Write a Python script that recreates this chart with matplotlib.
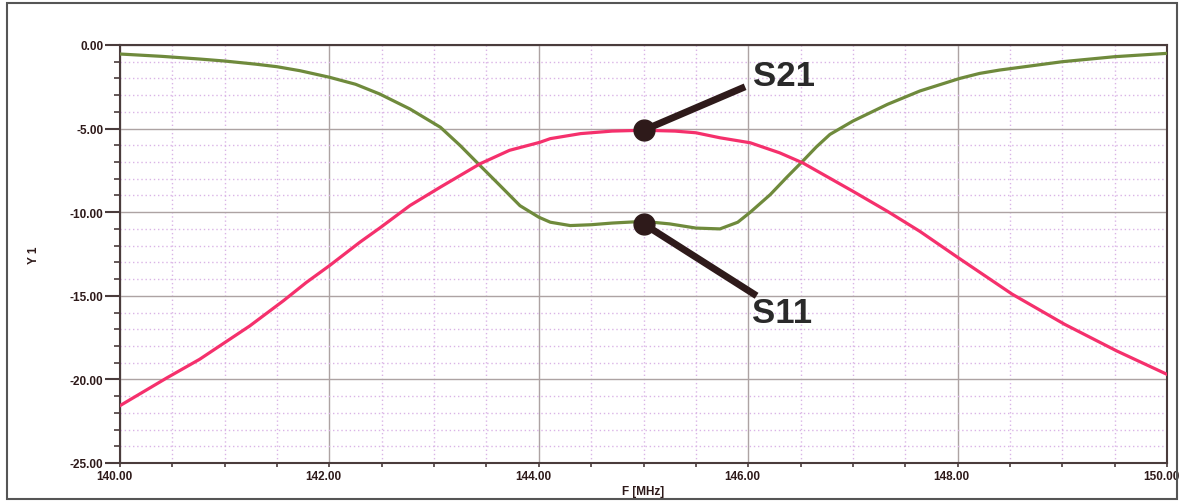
import matplotlib

matplotlib.use("Agg")

import matplotlib.pyplot as plt
from matplotlib.patches import Rectangle
from matplotlib.ticker import MultipleLocator, FormatStrFormatter
from matplotlib.transforms import ScaledTranslation

plt.rcParams["font.family"] = ["Liberation Sans", "DejaVu Sans"]

s11_freq = [140.0, 140.4, 140.76, 141.0, 141.3, 141.5, 141.72, 142.0, 142.25, 142.48,
            142.77, 143.06, 143.25, 143.44, 143.63, 143.82, 144.0, 144.11, 144.3, 144.5,
            144.7, 145.0, 145.25, 145.5, 145.73, 145.9, 146.02, 146.21, 146.37, 146.52,
            146.65, 146.78, 147.0, 147.33, 147.64, 148.02, 148.21, 148.4, 148.7, 149.0,
            149.5, 150.0]
s11_db = [-0.54, -0.68, -0.84, -0.96, -1.15, -1.3, -1.54, -1.93, -2.35, -2.93,
          -3.83, -4.92, -6.02, -7.22, -8.41, -9.61, -10.3, -10.6, -10.8, -10.75,
          -10.65, -10.55, -10.7, -10.95, -11.0, -10.6, -10.0, -8.95, -7.9, -6.95,
          -6.1, -5.35, -4.55, -3.55, -2.75, -2.0, -1.7, -1.5, -1.25, -1.0,
          -0.7, -0.5]

s21_freq = [140.0, 140.45, 140.76, 141.0, 141.24, 141.56, 141.78, 142.0, 142.29, 142.48,
            142.77, 143.06, 143.44, 143.72, 144.01, 144.11, 144.4, 144.7, 145.0, 145.3,
            145.5, 145.73, 146.02, 146.3, 146.52, 147.0, 147.33, 147.64, 148.0, 148.52,
            149.02, 149.52, 150.0]
s21_db = [-21.57, -19.9, -18.8, -17.8, -16.8, -15.3, -14.2, -13.2, -11.8, -10.95,
          -9.6, -8.5, -7.1, -6.3, -5.82, -5.6, -5.3, -5.15, -5.1, -5.15,
          -5.25, -5.55, -5.85, -6.45, -7.05, -8.75, -9.95, -11.15, -12.7, -14.9,
          -16.7, -18.3, -19.7]

labels = ["S21", "S11"]
marker_points = [(145.0, -5.1), (145.0, -10.7)]
leader_ends = [(145.97, -2.5), (146.08, -15.0)]
label_points = [(146.05, -1.8), (146.04, -16.0)]

dark = "#2e1a1a"

fig = plt.figure(figsize=(11.81, 5.02), dpi=100)
ax = fig.add_axes([0.1016, 0.0757, 0.8866, 0.8327])

ax.plot(s11_freq, s11_db, color="#6f8a3c", linewidth=2.3, zorder=3)
ax.plot(s21_freq, s21_db, color="#f5306c", linewidth=2.3, zorder=3)

for name, dot, end, txt in zip(labels, marker_points, leader_ends, label_points):
    ax.plot([dot[0], end[0]], [dot[1], end[1]], color=dark, linewidth=5,
            solid_capstyle="butt", zorder=4)
    ax.plot([dot[0]], [dot[1]], marker="o", markersize=15, color=dark, zorder=5)
    ax.text(txt[0], txt[1], name, fontsize=25, fontweight="bold", color="#2a2a2a",
            ha="left", va="center", zorder=6)

ax.set_xlim(140, 150)
ax.set_ylim(-25, 0)
ax.xaxis.set_major_locator(MultipleLocator(2))
ax.xaxis.set_minor_locator(MultipleLocator(0.5))
ax.yaxis.set_major_locator(MultipleLocator(5))
ax.yaxis.set_minor_locator(MultipleLocator(1))
ax.xaxis.set_major_formatter(FormatStrFormatter("%.2f"))
ax.yaxis.set_major_formatter(FormatStrFormatter("%.2f"))

ax.grid(True, which="major", color="#ada3a3", linewidth=1.0, zorder=1)
ax.grid(True, which="minor", color="#dab4e6", linewidth=1.0, linestyle=(0, (1, 2)), zorder=1)

for side in ax.spines.values():
    side.set_color("#4a3c3c")
    side.set_linewidth(1.5)

ax.tick_params(axis="y", which="major", length=11, width=1.5, color="#4a3c3c",
               labelsize=8.5, labelcolor=dark, pad=1)
ax.tick_params(axis="y", which="minor", length=4, width=1.2, color="#4a3c3c")
ax.tick_params(axis="x", which="both", length=3, width=1.2, color="#4a3c3c",
               labelsize=8.5, labelcolor=dark, pad=2)

shift = ScaledTranslation(-0.06, 0, fig.dpi_scale_trans)
for lbl in ax.get_xticklabels():
    lbl.set_fontweight("bold")
    lbl.set_transform(lbl.get_transform() + shift)
for lbl in ax.get_yticklabels():
    lbl.set_fontweight("bold")

ax.set_xlabel("F [MHz]", fontsize=8.5, fontweight="bold", color=dark, labelpad=2)
ax.set_ylabel("Y 1", fontsize=8.5, fontweight="bold", color=dark, labelpad=21)

fig.patches.append(Rectangle((0.006, 0.004), 0.991, 0.988, transform=fig.transFigure,
                             fill=False, edgecolor="#555555", linewidth=1.5))

fig.savefig("out.png", dpi=100)
plt.close(fig)
